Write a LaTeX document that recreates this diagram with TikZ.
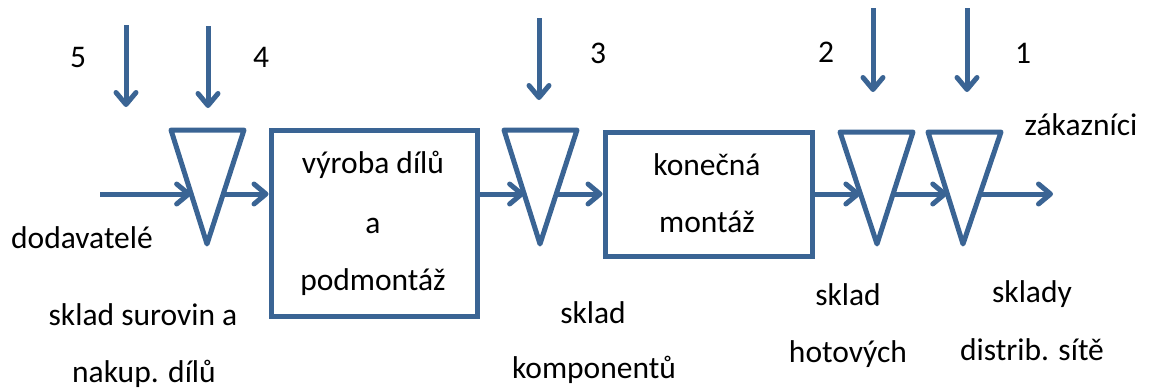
\documentclass[tikz,border=0pt]{standalone}
\usepackage{fontspec}
\setmainfont{Carlito}
\usetikzlibrary{arrows.meta,calc}
\definecolor{flow}{HTML}{3A6494}
\begin{document}
\begin{tikzpicture}[x=1pt,y=-1pt,
  line/.style={draw=flow,line width=5pt},
  flowarrow/.style={line,-{Straight Barb[length=12pt,width=20pt,line join=round,line cap=round]}},
  boxnode/.style={line,rectangle,inner sep=0pt},
  lbl/.style={font=\fontsize{31.5}{36}\selectfont,anchor=base,inner sep=0pt}]
\useasboundingbox (0,0) rectangle (1149,389);
\coordinate (row) at (0,194);
% boxes
\node[boxnode,minimum width=206,minimum height=186] (b1) at (374,223) {};
\node[boxnode,minimum width=207,minimum height=124] (b2) at (708.5,194.5) {};
% triangles (storage)
\coordinate (t1l) at (171,130); \coordinate (t1r) at (244,130); \coordinate (t1a) at (207,244);
\coordinate (t2l) at (504,130); \coordinate (t2r) at (577,130); \coordinate (t2a) at (540,244);
\coordinate (t3l) at (840,132); \coordinate (t3r) at (913,132); \coordinate (t3a) at (877,244);
\coordinate (t4l) at (928,132); \coordinate (t4r) at (1001,132); \coordinate (t4a) at (963,244);
\foreach \t in {1,2,3,4}{
  \draw[line,line join=round] (t\t l) -- (t\t r) -- (t\t a) -- cycle;
}
% edge points on the row
\coordinate (t1in) at ($(t1l)!0.56!(t1a)$);  \coordinate (t1out) at ($(t1r)!0.56!(t1a)$);
\coordinate (t2in) at ($(t2l)!0.56!(t2a)$);  \coordinate (t2out) at ($(t2r)!0.56!(t2a)$);
\coordinate (t3in) at ($(t3l)!0.55!(t3a)$);  \coordinate (t3out) at ($(t3r)!0.55!(t3a)$);
\coordinate (t4in) at ($(t4l)!0.55!(t4a)$);  \coordinate (t4out) at ($(t4r)!0.55!(t4a)$);
\coordinate (sup) at (100,194);
\coordinate (cust) at (1053,194);
% horizontal flow
\draw[flowarrow] (sup) -- (t1in |- row);
\draw[flowarrow] (t1out |- row) -- (b1.west |- row);
\draw[flowarrow] (b1.east |- row) -- (t2in |- row);
\draw[flowarrow] (t2out |- row) -- (b2.west |- row);
\draw[flowarrow] (b2.east |- row) -- (t3in |- row);
\draw[flowarrow] (t3out |- row) -- (t4in |- row);
\draw[flowarrow] (t4out |- row) -- (cust);
% vertical arrows
\coordinate (s5) at (126,25);  \coordinate (e5) at (126,107);
\coordinate (s4) at (208,26);  \coordinate (e4) at (208,108);
\coordinate (s3) at (539,18);  \coordinate (e3) at (539,100);
\coordinate (s2) at (873,8);   \coordinate (e2) at (873,92);
\coordinate (s1) at (967,8);   \coordinate (e1) at (967,92);
\foreach \i in {1,...,5}{ \draw[flowarrow] (s\i) -- (e\i); }
% numbers
\node[lbl] (n5) at (78,67) {5};
\node[lbl] (n4) at (261,67) {4};
\node[lbl] (n3) at (598,63) {3};
\node[lbl] (n2) at (826,62) {2};
\node[lbl] (n1) at (1023,63) {1};
% box texts
\node[lbl] (b1a) at (373,173) {výroba dílů};
\node[lbl] (b1b) at (373,233) {a};
\node[lbl] (b1c) at (373,290) {podmontáž};
\node[lbl] (b2a) at (707,175) {konečná};
\node[lbl] (b2b) at (707,232) {montáž};
% other labels
\node[lbl] (zak) at (1081,135) {zákazníci};
\node[lbl] (dod) at (82,248) {dodavatelé};
\node[lbl] (s1a) at (143,325) {sklad surovin a};
\node[lbl] (s1b) at (144,382) {nakup. dílů};
\node[lbl] (s2a) at (593,323) {sklad};
\node[lbl] (s2b) at (594,378) {komponentů};
\node[lbl] (s3a) at (848,305) {sklad};
\node[lbl] (s3b) at (848,362) {hotových};
\node[lbl] (s4a) at (1032,302) {sklady};
\node[lbl] (s4b) at (1032,360) {distrib. sítě};
\end{tikzpicture}
\end{document}
